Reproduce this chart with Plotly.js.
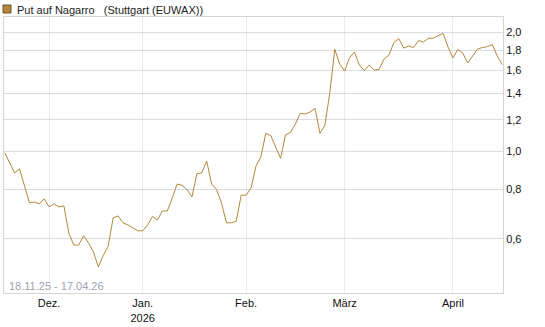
<!DOCTYPE html>
<html>
<head>
<meta charset="utf-8">
<script src="https://cdn.plot.ly/plotly-3.0.1.min.js"></script>
<style>
html,body{margin:0;padding:0;background:#fff;}
#chart{width:545px;height:327px;}
</style>
</head>
<body>
<div id="chart"></div>
<script>
const dates = [
'2025-11-18','2025-11-19','2025-11-20','2025-11-21','2025-11-24','2025-11-25','2025-11-26','2025-11-27','2025-11-28',
'2025-12-01','2025-12-02','2025-12-03','2025-12-04','2025-12-05','2025-12-08','2025-12-09','2025-12-10','2025-12-11','2025-12-12',
'2025-12-15','2025-12-16','2025-12-17','2025-12-18','2025-12-19','2025-12-22','2025-12-23','2025-12-29','2025-12-30',
'2026-01-02','2026-01-05','2026-01-06','2026-01-07','2026-01-08','2026-01-09','2026-01-12','2026-01-13','2026-01-14','2026-01-15','2026-01-16',
'2026-01-19','2026-01-20','2026-01-21','2026-01-22','2026-01-23','2026-01-26','2026-01-27','2026-01-28','2026-01-29','2026-01-30',
'2026-02-02','2026-02-03','2026-02-04','2026-02-05','2026-02-06','2026-02-09','2026-02-10','2026-02-11','2026-02-12','2026-02-13',
'2026-02-16','2026-02-17','2026-02-18','2026-02-19','2026-02-20','2026-02-23','2026-02-24','2026-02-25','2026-02-26','2026-02-27',
'2026-03-02','2026-03-03','2026-03-04','2026-03-05','2026-03-06','2026-03-09','2026-03-10','2026-03-11','2026-03-12','2026-03-13',
'2026-03-16','2026-03-17','2026-03-18','2026-03-19','2026-03-20','2026-03-23','2026-03-24','2026-03-25','2026-03-26','2026-03-27',
'2026-03-30','2026-03-31',
'2026-04-01','2026-04-02','2026-04-07','2026-04-08','2026-04-09','2026-04-10','2026-04-13','2026-04-14','2026-04-15','2026-04-16','2026-04-17'
];
const prices = [
0.990,0.934,0.881,0.902,0.822,0.740,0.744,0.736,0.757,
0.723,0.736,0.723,0.727,0.621,0.579,0.579,0.611,0.586,0.556,
0.510,0.545,0.576,0.678,0.686,0.659,0.651,0.640,0.629,
0.629,0.651,0.684,0.670,0.706,0.706,0.761,0.826,0.820,0.800,0.766,
0.876,0.881,0.944,0.826,0.800,0.740,0.659,0.659,0.665,0.774,
0.774,0.807,0.917,0.968,1.109,1.095,1.025,0.959,1.099,1.115,
1.171,1.245,1.242,1.256,1.283,1.109,1.164,1.405,1.809,1.660,
1.594,1.724,1.781,1.651,1.599,1.651,1.603,1.610,1.709,1.749,
1.880,1.925,1.822,1.844,1.828,1.903,1.887,1.928,1.931,1.960,
1.985,1.833,
1.720,1.807,1.770,1.670,1.739,1.812,1.828,1.838,1.858,1.739,1.655
];
const xTickVals = ['2025-12-01','2026-01-02','2026-02-02','2026-03-02','2026-04-01'];
const xTickText = ['Dez.','Jan.<br>2026','Feb.','März','April'];
const yTickVals = [0.6,0.8,1.0,1.2,1.4,1.6,1.8,2.0];
const seriesName = 'Put auf Nagarro\u00a0\u00a0\u00a0(Stuttgart (EUWAX))';
const periodText = '18.11.25 - 17.04.26';

const lineColor = '#b5873a';
const W = 545, H = 327, L = 4, R = 42, T = 17, B = 34;
const pw = W - L - R, ph = H - T - B;
const px = v => (v - L) / pw;
const py = v => (H - B - v) / ph;

const trace = {
  x: dates, y: prices, type: 'scatter', mode: 'lines',
  line: {color: lineColor, width: 1}, hoverinfo: 'skip', showlegend: false
};

const layout = {
  width: W, height: H,
  margin: {l: L, r: R, t: T, b: B, pad: 0},
  paper_bgcolor: '#fff', plot_bgcolor: '#fff',
  separators: ',.',
  font: {family: '"Liberation Sans", Arial, sans-serif', size: 11, color: '#222'},
  showlegend: false,
  xaxis: {
    type: 'category',
    range: [-0.16, dates.length - 1 + 0.16],
    tickmode: 'array', tickvals: xTickVals, ticktext: xTickText,
    showgrid: true, gridcolor: '#ececec', gridwidth: 1,
    showline: true, linecolor: '#d4d4d4', linewidth: 1, mirror: true,
    ticks: '', zeroline: false,
    tickfont: {size: 11, color: '#111'}
  },
  yaxis: {
    type: 'log', side: 'right',
    range: [Math.log10(0.438), Math.log10(2.183)],
    tickmode: 'array', tickvals: yTickVals, tickformat: '.1f',
    showgrid: true, gridcolor: '#dcdcdc', gridwidth: 1,
    showline: true, linecolor: '#d4d4d4', linewidth: 1, mirror: true,
    ticks: '', zeroline: false,
    tickfont: {size: 11, color: '#111'}
  },
  shapes: [{
    type: 'rect', xref: 'paper', yref: 'paper',
    x0: px(3), x1: px(11), y0: py(13), y1: py(5),
    fillcolor: lineColor, line: {color: '#6e5330', width: 1}
  }],
  annotations: [{
    xref: 'paper', yref: 'paper', x: px(15), y: py(10),
    xanchor: 'left', yanchor: 'middle', showarrow: false,
    text: seriesName, font: {size: 11, color: '#222'}
  },{
    xref: 'paper', yref: 'paper', x: px(7), y: py(286),
    xanchor: 'left', yanchor: 'middle', showarrow: false,
    text: periodText, font: {size: 11, color: '#a0a0b0'}
  }]
};

Plotly.newPlot('chart', [trace], layout, {staticPlot: true, displayModeBar: false});
</script>
</body>
</html>
